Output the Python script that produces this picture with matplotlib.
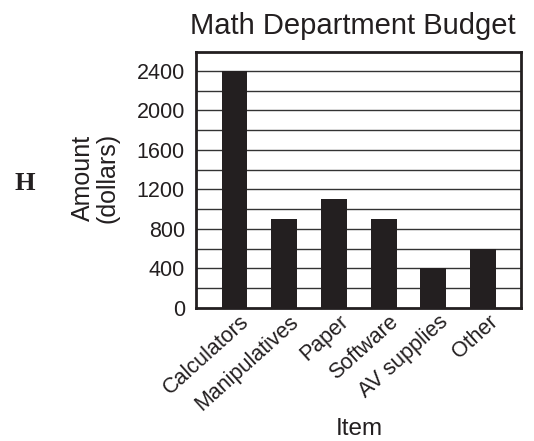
import matplotlib
matplotlib.use("Agg")
import matplotlib.pyplot as plt
import matplotlib.transforms as mtransforms
import numpy as np

categories = ["Calculators", "Manipulatives", "Paper", "Software", "AV supplies", "Other"]
values = [2400, 900, 1100, 900, 400, 600]
yticks = [0, 400, 800, 1200, 1600, 2000, 2400]
grid_lines = list(range(200, 2600, 200))

plt.rcParams['font.family'] = ['Liberation Sans', 'DejaVu Sans']

fig = plt.figure(figsize=(5.34, 4.41), dpi=100)
ax = fig.add_axes([196/534, 1-308/441, (521-196)/534, (308-52)/441])

x = np.arange(len(categories))
for g in grid_lines:
    ax.axhline(g, color='#333333', lw=1.0, zorder=1)
ax.bar(x, values, width=0.52, color='#231f20', zorder=2)

ax.set_xlim(-0.775, 5.765)
ax.set_ylim(0, 2590)
ax.set_yticks(yticks)
ax.set_yticklabels([str(t) for t in yticks], fontsize=15.5, color='#231f20')
ax.set_xticks(x)
ax.set_xticklabels(categories, rotation=42, ha='right', va='top', fontsize=15.5,
                   rotation_mode='anchor', color='#231f20')
ax.tick_params(axis='y', length=0, pad=8)
ax.tick_params(axis='x', length=0, pad=3)
offset = mtransforms.ScaledTranslation(5/100, 1/100, fig.dpi_scale_trans)
for lbl in ax.get_xticklabels():
    lbl.set_transform(lbl.get_transform() + offset)
for s in ax.spines.values():
    s.set_linewidth(2)
    s.set_color('#231f20')

fig.text(353/534, 1-34/441, "Math Department Budget", ha='center', va='baseline',
         fontsize=21, color='#231f20')
fig.text(95/534, 1-178/441, "Amount\n(dollars)", ha='center', va='center', rotation=90,
         fontsize=18, linespacing=1.05, color='#231f20')
fig.text(359/534, 1-435/441, "Item", ha='center', va='baseline', fontsize=17.5,
         color='#231f20')
fig.text(24.5/534, 1-184/441, "H", ha='center', va='center', fontsize=19,
         fontweight='bold', family=['Liberation Serif', 'DejaVu Serif'], color='#231f20')

fig.savefig("out.png", dpi=100)
